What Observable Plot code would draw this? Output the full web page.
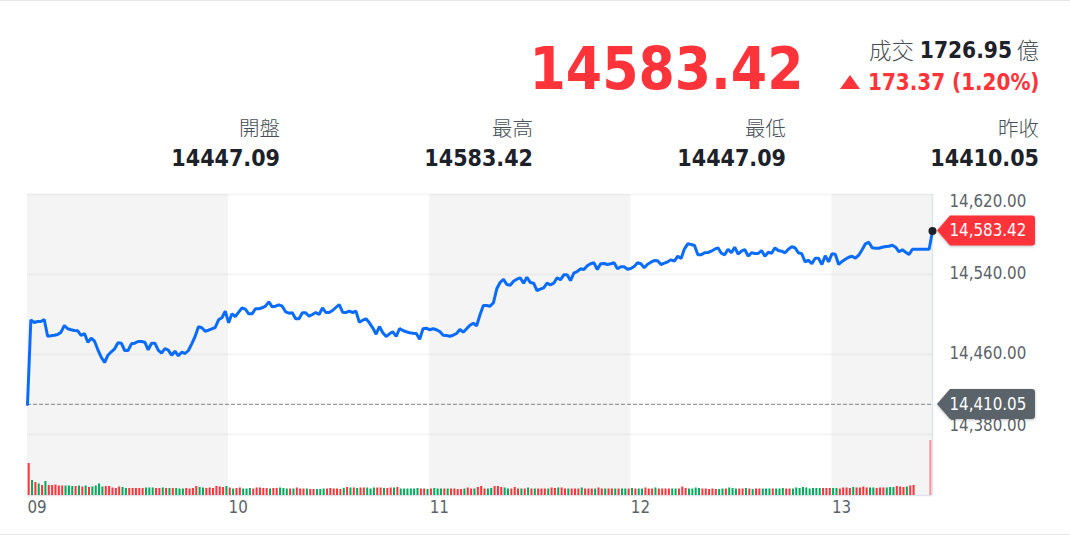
<!DOCTYPE html>
<html lang="zh-Hant">
<head>
<meta charset="utf-8">
<script src="https://cdn.jsdelivr.net/npm/d3@7"></script>
<script src="https://cdn.jsdelivr.net/npm/@observablehq/plot@0.6"></script>
<style>
html,body{margin:0;padding:0;background:#fff;width:1070px;height:535px;overflow:hidden;font-family:"DejaVu Sans Condensed","DejaVu Sans","Noto Sans CJK TC",sans-serif;font-stretch:condensed;}
#page{position:relative;width:1070px;height:535px;box-sizing:border-box;}
#page::before,#page::after{content:"";position:absolute;left:0;right:0;height:1px;background:#e6e6e6;}
#page::before{top:0;}#page::after{top:534px;}
#header{position:relative;height:184px;}
#chart{position:absolute;left:0;top:184px;}
#chart svg{display:block;overflow:visible;}
.t{position:absolute;white-space:nowrap;text-align:right;}
.cjk{font-family:"Noto Sans CJK TC",sans-serif;font-weight:300;color:#464e56;}
.lab{font-size:20.5px;}
.val{color:#1d2129;font-size:23px;font-weight:700;}
.up{color:#ff333a;font-weight:700;}
</style>
</head>
<body>
<div id="page">
<div id="header"></div>
<div id="chart"></div>
</div>
<script>
const lastPrice = "14583.42";
const turnover = "1726.95";
const change = "173.37 (1.20%)";
const statLabels = ["開盤", "最高", "最低", "昨收"];
const statValues = ["14447.09", "14583.42", "14447.09", "14410.05"];
const prevClose = 14410.05;
const current = 14583.42;
const priceTicks = [14620, 14540, 14460, 14380];
const hourMinutes = [0, 60, 120, 180, 240];
const hourLabels = ["09", "10", "11", "12", "13"];
const bandStarts = [0, 120, 240];
const bandEnds = [60, 180, 270];
const volumeFloor = 14319;

const pricesEarly = [14410.05,14494.7,14492,14493,14493,14495,14478.3,14478.7,14479.3,14480,14482.3,14489,14485.7,14484.7,14484,14483.7,14479,14481,14472.3,14476.3,14473.3,14464.7,14457.3,14452,14459.3,14462.7,14465.7,14471.7,14471.3,14464,14464,14470.7,14471.3,14473,14473,14472.3,14464.7,14471.3,14471.3,14464.3,14461.3,14466,14464.3,14459.3,14463.3,14458.7,14462.3,14461,14464,14470.7,14478,14487.7,14486.7,14483.3,14484.3,14485.7,14487,14494.7,14496.7,14503.3,14491.7,14500.7,14498,14502.3,14506.7,14505.3,14500.7,14500.7,14505.7,14505.7,14506.7,14508.3,14512.7,14507.7,14508.3,14509.7,14508.3,14502.7,14501.3,14501.7,14495.7,14495.7,14501.7,14501.7,14498.3,14500,14502,14500];
const pricesMiddle = [14506.7,14502,14502,14504,14507,14510,14502.3,14502,14503.3,14502,14503.3,14492.3,14494.3,14495.7,14491.7,14486.7,14480.3,14488,14481.7,14478,14480.7,14482.7,14478,14486,14484,14482.7,14481.7,14481.3,14481,14475.3,14485.7,14486.3,14484.7,14485.7,14484.7,14483,14479.3,14479,14478.3,14479.3,14481,14485,14482.3,14485.7,14489.3,14491.3,14488.7,14499.7,14509,14509,14508.3,14511.7,14525.7,14532,14535.3,14530,14529.3,14533.3,14535.3,14536.7,14531.3,14537.3,14532,14531.3,14524,14525.3,14526.7,14531.3,14529.7,14531.3,14536.7,14534.7,14539.7,14539.7,14534,14541.3,14543,14545.7,14545,14548.7,14550.7,14551.7,14545,14550.7,14551,14550,14550.7,14551.7,14545.7,14547.7];
const pricesLate = [14547.7,14545.3,14546,14548,14551.7,14550.7,14546.7,14550.3,14552.3,14554,14553.7,14550,14551.3,14552.7,14554.7,14553.3,14558.3,14556,14565.7,14570.7,14570,14569,14559.7,14559.7,14561.7,14562,14563.3,14565.3,14566.7,14561.3,14559.7,14565.3,14561.7,14567.3,14560.3,14563.3,14565,14558.3,14561.7,14561,14561,14564,14558.3,14562.3,14561.3,14566.7,14564,14563.3,14561.7,14565.3,14567.7,14566.7,14561.7,14560.7,14552.7,14554.3,14550.7,14556.3,14556.3,14550,14558.7,14552.7,14560.7,14560.3,14550,14553,14555.3,14557.3,14558.3,14556.3,14559.3,14564.7,14570.7,14572.3,14566.7,14566.3,14566.3,14567.3,14568,14568.3,14569.3,14567.3,14562.7,14564.7,14562.3,14560,14565.3,14565.3,14565.3,14565.3,14565.3,14565.3,14583.42];

const volumes = [
32,15,13,11.5,10,14,10,10,10.5,9.5,9.5,9.5,9.5,9,9,9.5,8.5,9.5,8,8.5,9.5,11.5,8.5,9,9,7.5,7,8.5,8,7,7,7,7,7,7,7.5,7.5,7.5,7,7,7.5,7,7,7,7,6.5,6.5,
7,6.5,7,9,8,7.5,7,7.5,7,9,8.5,8,9,7.5,6.5,7,7.5,6.5,6.5,7,6.5,7.5,7.5,7,7,6.5,7,7,7.5,7,6.5,6.5,6.5,7.5,6.5,6.5,6.5,6,6,6,6,6.5,6.5,7,6.5,6.5,6,7,
8,7.5,7.5,7,7.5,7.5,7.5,6.5,7.5,7.5,7.5,7,7,7.5,7.5,8,6.5,6.5,6.5,6.5,6.5,7,6.5,6.5,6,6.5,7,6.5,6.5,6.5,6.5,6.5,6.5,6,6,6.5,7.5,6.5,6.5,8,9,6.5,6.5,7,9,9,8,
7.5,6.5,6.5,8,6.5,6.5,6.5,7.5,6.5,6.5,6.5,6.5,6.5,6.5,7.5,7,7.5,7.5,6.5,6.5,6.5,6.5,6.5,7.5,6.5,6.5,6.5,6.5,7.5,6.5,6.5,6.5,6.5,6.5,6.5,6.5,6.5,6.5,7,6.5,6.5,6.5,7.5,6.5,6.5,7.5,6.5,6.5,
6.5,6.5,6.5,6.5,6.5,8.5,7,6.5,6.5,7.5,7,6.5,6.5,6,6.5,6,6,6.5,6.5,7.5,7,6.5,6.5,6.5,7,6.5,6,6.5,6.5,6.5,6.5,6.5,6.5,6.5,6.5,7,6.5,6.5,6.5,7.5,7,8,7.5,6.5,7,7,7,7,
7,7,7,7,6.5,7.5,7.5,7,8,7.5,7.5,8.5,7.5,7.5,7.5,7,7.5,7.5,7.5,8,8,9,8.5,8,8.5,9.5,10,
0,0,0,0,55];
const directions =
"RGRGRGRRRRRGGGRGRGRGGGGRRRRRGGRRRRRGGGRRGRGRGGG" +
"RRRRGGRRRRRRGRGRRGGGRRRRRGRRGGGRGRRRGRRGGGRRRRRG" +
"RGRGRRGGGRRGRRGRGGGGGGRRGRGGGRGRRRRGRRGRRRGGRRR" +
"GGRRRGRGRGRRRGRRGRRGRRRGRRRGRRGRRGRGGRGRGGRRRGRR" +
"RRGGRRRGGGGRRRRRGGRGGGRRGRGRRGGGRGGGRRGGGGGGGGGR" +
"RRGGRRRRGRRRRGGRRRGGGRRRGRR" +
"RRRRR";

const prices = [...pricesEarly, ...pricesMiddle, ...pricesLate];
const bars = volumes.map((v, i) => ({minute: i + 1, v, dir: directions[i]})).filter(d => d.v > 0);
const bands = bandStarts.map((s, i) => ({s, e: bandEnds[i]}));
const hours = hourMinutes.map((m, i) => ({m, label: hourLabels[i]}));

const RED = "#ff333a", GREEN = "#00ab5e", BLUE = "#0a6cff", SLATE = "#5b636a", FONT_SIZE = 16.8;
const NUM_FONT = '"DejaVu Sans Condensed","DejaVu Sans",sans-serif';

// header
const header = document.getElementById("header");
function put(html, cls, right, center, lh, extra) {
  const e = document.createElement("div");
  e.className = "t " + cls;
  e.innerHTML = html;
  e.style.right = (1070 - right) + "px";
  e.style.top = (center - lh / 2) + "px";
  e.style.lineHeight = lh + "px";
  if (extra) Object.assign(e.style, extra);
  header.appendChild(e);
}
put(lastPrice, "up", 803.5, 68.5, 70, {fontSize: "58px"});
put("億", "cjk", 1039, 49, 30, {fontSize: "22.5px"});
put(turnover, "val", 1012, 50, 30, {fontSize: "22.5px"});
put("成交", "cjk", 914, 49, 30, {fontSize: "22.5px"});
put(change, "up", 1039.5, 82, 30, {fontSize: "22.2px"});
const tri = document.createElement("div");
tri.style.cssText = `position:absolute;left:840px;top:75px;width:0;height:0;border-left:10px solid transparent;border-right:10px solid transparent;border-bottom:14px solid ${RED};`;
header.appendChild(tri);
const statRights = [280, 533, 786, 1039];
statLabels.forEach((l, i) => {
  put(l, "cjk lab", statRights[i], 127, 30);
  put(statValues[i], "val", statRights[i], 158, 30);
});

// badge with pointer, placed through the plot's scales
function badge(value, color) {
  return (index, scales) => {
    const x = scales.x(270), y = scales.y(value);
    const l = x + 18, r = x + 103, t = y - 15, b = y + 15, c = 3;
    const tip = x + 5;
    const d = `M${tip},${y}L${l},${t}H${r - c}Q${r},${t} ${r},${t + c}V${b - c}Q${r},${b} ${r - c},${b}H${l}Z`;
    return d3.create("svg:path").attr("d", d).attr("fill", color)
      .style("filter", "drop-shadow(0 1px 1.5px rgba(0,0,0,.25))").node();
  };
}

const textOpts = {x: () => 270, textAnchor: "start", dx: 17, fontSize: FONT_SIZE, fill: SLATE, fontFamily: NUM_FONT};
const fmt = d3.format(",.2f");

const chart = Plot.plot({
  width: 1070,
  height: 350,
  marginTop: 10,
  marginBottom: 39,
  marginLeft: 27,
  marginRight: 138,
  style: {background: "transparent", overflow: "visible"},
  x: {domain: [0, 270], axis: null},
  y: {domain: [volumeFloor, 14620], axis: null},
  marks: [
    Plot.rect(bands, {x1: "s", x2: "e", fill: "#f4f4f4"}),
    Plot.ruleY(priceTicks, {stroke: "#000", strokeOpacity: 0.04, strokeWidth: 2}),
    Plot.ruleY([volumeFloor], {stroke: "#dfe2ea", strokeWidth: 1.5}),
    Plot.ruleX([270], {stroke: "#dfe2ea", strokeWidth: 1.5}),
    Plot.rect(bars.filter(d => d.dir === "G"), {x1: d => d.minute - 0.8, x2: d => d.minute - 0.2, y1: () => volumeFloor, y2: d => volumeFloor + d.v, fill: GREEN}),
    Plot.rect(bars.filter(d => d.dir === "R" && d.minute < 270), {x1: d => d.minute - 0.8, x2: d => d.minute - 0.2, y1: () => volumeFloor, y2: d => volumeFloor + d.v, fill: RED}),
    Plot.rect(bars.filter(d => d.minute === 270), {x1: d => d.minute - 0.8, x2: d => d.minute - 0.2, y1: () => volumeFloor, y2: d => volumeFloor + d.v, fill: RED, fillOpacity: 0.5}),
    Plot.ruleY([prevClose], {stroke: "#999", strokeWidth: 1.3, strokeDasharray: "4 2"}),
    Plot.line(prices, {x: (d, i) => i, y: d => d, stroke: BLUE, strokeWidth: 3, strokeLinejoin: "miter"}),
    Plot.dot([current], {x: () => 270, y: d => d, r: 4, fill: "#1d2129"}),
    Plot.text(priceTicks.filter(t => t === 14620), {...textOpts, y: d => d, text: fmt, dy: 7}),
    Plot.text(priceTicks.filter(t => t === 14540), {...textOpts, y: d => d, text: fmt, dy: -1}),
    Plot.text(priceTicks.filter(t => t === 14460), {...textOpts, y: d => d, text: fmt, dy: -1}),
    Plot.text(priceTicks.filter(t => t === 14380), {...textOpts, y: d => d, text: fmt, dy: -9}),
    badge(current, RED),
    badge(prevClose, SLATE),
    Plot.text([current], {...textOpts, y: d => d, text: fmt, fill: "#fff", dy: 0}),
    Plot.text([prevClose], {...textOpts, y: d => d, text: fmt, fill: "#fff", dy: 0}),
    Plot.text(hours, {x: "m", y: () => volumeFloor, text: "label", textAnchor: "start", dy: 12, fontSize: FONT_SIZE, fill: SLATE, fontFamily: NUM_FONT})
  ]
});
document.getElementById("chart").appendChild(chart);
</script>
</body>
</html>
